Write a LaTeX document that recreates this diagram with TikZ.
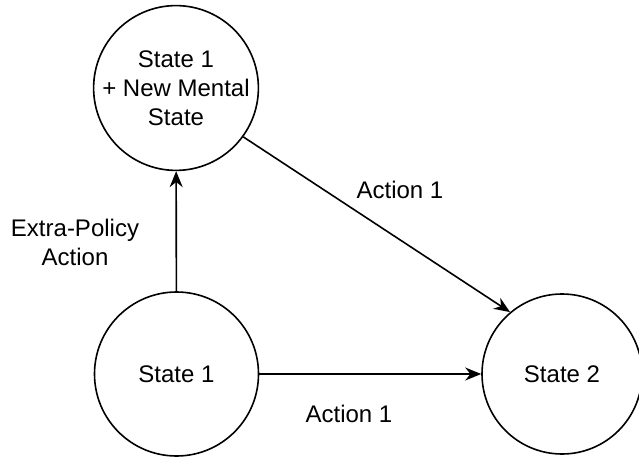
\documentclass[tikz,border=0pt]{standalone}
\usepackage{fontspec}
\setmainfont{Liberation Sans}
\usetikzlibrary{arrows.meta}
\begin{document}
\begin{tikzpicture}[x=1pt,y=-1pt,
  state/.style={circle,draw,line width=1.6pt,minimum size=164pt,inner sep=0pt,align=center,
    font=\fontsize{24}{29}\selectfont},
  lbl/.style={align=center,font=\fontsize{24}{29}\selectfont},
  link/.style={line width=1.6pt,-{Stealth[length=16pt,width=13pt]}}]
\useasboundingbox (0,0) rectangle (639,457);
\node[state] (s1m) at (176,88) {State 1\\+ New Mental\\State};
\node[state] (s1) at (176.5,374) {State 1};
\node[state,minimum size=160pt] (s2) at (562,374) {State 2};
\draw[link] (s1) -- (s1m);
\draw[link] (s1) -- (s2);
\draw[link] (s1m.-36) -- (s2.130);
\node[lbl] (l1) at (75,242) {Extra-Policy\\Action};
\node[lbl] (l2) at (400,190) {Action 1};
\node[lbl] (l3) at (349,414) {Action 1};
\end{tikzpicture}
\end{document}
